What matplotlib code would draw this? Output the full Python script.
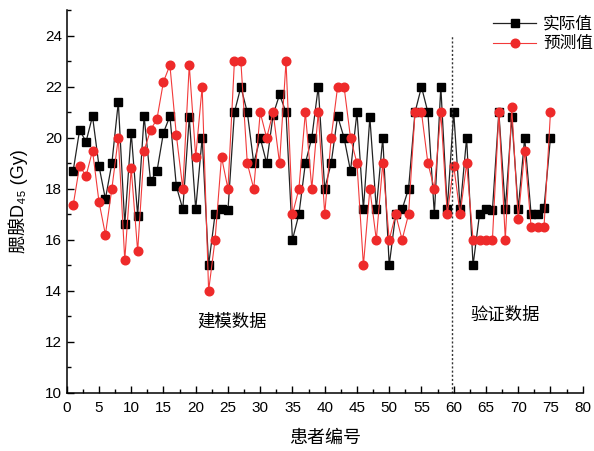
import numpy as np
import matplotlib
matplotlib.use("Agg")
import matplotlib.pyplot as plt
from matplotlib.ticker import MultipleLocator

plt.rcParams['font.family'] = ['Liberation Sans', 'Noto Sans CJK SC', 'DejaVu Sans']

# patient number 1..75
patients = list(range(1, 76))

# actual parotid D45 (Gy)
actual = [18.7, 20.3, 19.85, 20.85, 18.9, 17.6, 19.0, 21.4, 16.6, 20.2,
          16.95, 20.85, 18.3, 18.7, 20.2, 20.85, 18.1, 17.2, 20.8, 17.2,
          20.0, 15.0, 17.0, 17.2, 17.15, 21.0, 22.0, 21.0, 19.0, 20.0,
          19.0, 20.9, 21.7, 21.0, 16.0, 17.0, 19.0, 20.0, 22.0, 18.0,
          19.0, 20.85, 20.0, 18.7, 21.0, 17.2, 20.8, 17.2, 20.0, 15.0,
          17.0, 17.2, 18.0, 21.0, 22.0, 21.0, 17.0, 22.0, 17.2, 21.0,
          17.2, 20.0, 15.0, 17.0, 17.2, 17.15, 21.0, 17.2, 20.8, 17.2,
          20.0, 17.0, 17.0, 17.25, 20.0]

# predicted values
predicted = [17.35, 18.9, 18.5, 19.5, 17.5, 16.2, 18.0, 20.0, 15.2, 18.8,
             15.55, 19.5, 20.3, 20.75, 22.2, 22.85, 20.1, 18.0, 22.85, 19.25,
             22.0, 14.0, 16.0, 19.25, 18.0, 23.0, 23.0, 19.0, 18.0, 21.0,
             20.0, 21.0, 19.0, 23.0, 17.0, 18.0, 21.0, 18.0, 21.0, 17.0,
             20.0, 22.0, 22.0, 20.0, 19.0, 15.0, 18.0, 16.0, 19.0, 16.0,
             17.0, 16.0, 17.0, 21.0, 21.0, 19.0, 18.0, 21.0, 17.0, 18.9,
             17.0, 19.0, 16.0, 16.0, 16.0, 16.0, 21.0, 16.0, 21.2, 16.8,
             19.5, 16.5, 16.5, 16.5, 21.0]

split_x = 59.75

fig = plt.figure(figsize=(5.94, 4.51), dpi=100)
ax = fig.add_axes([0.1123, 0.1293, 0.981 - 0.1123, 0.977 - 0.1293])

ax.plot(patients, actual, color='#222222', lw=0.9, marker='s', ms=5.3,
        mfc='black', mec='black', label='实际值')
ax.plot(patients, predicted, color='#f23a3a', lw=0.8, marker='o', ms=6.2,
        mfc='#ee2a2a', mec='#ee2a2a', label='预测值')

# training / validation split
ax.plot([split_x, split_x], [10, 24], color='#333333', lw=1.0, ls=(0, (1.5, 1.5)))

ax.text(25.7, 12.8, '建模数据', fontsize=12.5, ha='center', va='center')
ax.text(68, 13.05, '验证数据', fontsize=12.5, ha='center', va='center')

ax.set_xlim(0, 80)
ax.set_ylim(10, 25)
ax.xaxis.set_major_locator(MultipleLocator(5))
ax.xaxis.set_minor_locator(MultipleLocator(2.5))
ax.yaxis.set_minor_locator(MultipleLocator(1))
ax.set_yticks([10, 12, 14, 16, 18, 20, 22, 24])
ax.tick_params(which='both', direction='in', labelsize=11, width=1)
ax.tick_params(which='major', length=5)
ax.tick_params(which='minor', length=3)
ax.tick_params(axis='x', pad=6)

for s in ['top', 'right']:
    ax.spines[s].set_visible(False)
for s in ['left', 'bottom']:
    ax.spines[s].set_linewidth(1.1)

ax.set_xlabel('患者编号', fontsize=13, labelpad=11)
ax.set_ylabel('腮腺D₄₅ (Gy)', fontsize=13, labelpad=12)

ax.legend(loc='upper right', bbox_to_anchor=(0.998, 0.965),
          bbox_transform=fig.transFigure, borderaxespad=0, borderpad=0,
          frameon=False, fontsize=12, handlelength=2.6, labelspacing=0.3,
          handletextpad=0.4)

fig.savefig('out.png', dpi=100)
